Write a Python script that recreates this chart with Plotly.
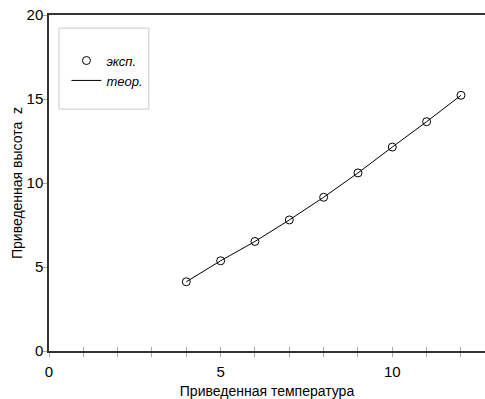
import plotly.graph_objects as go

# Data
t_exp = [4, 5, 6, 7, 8, 9, 10, 11, 12]
z_exp = [4.12, 5.37, 6.52, 7.8, 9.15, 10.6, 12.14, 13.65, 15.22]
t_theor = [4, 5, 6, 7, 8, 9, 10, 11, 12]
z_theor = [4.12, 5.37, 6.52, 7.8, 9.15, 10.6, 12.14, 13.65, 15.22]

x_ticks = [0, 1, 2, 3, 4, 5, 6, 7, 8, 9, 10, 11, 12]
x_ticktext = ["0", "", "", "", "", "5", "", "", "", "", "10", "", ""]
y_ticks = [0, 5, 10, 15, 20]

FONT = "Liberation Sans, Arial, sans-serif"

fig = go.Figure()
fig.add_trace(go.Scatter(
    x=t_exp, y=z_exp, mode="markers", name="<i>эксп.</i>",
    marker=dict(symbol="circle-open", size=8, color="black", line=dict(width=1, color="black")),
))
fig.add_trace(go.Scatter(
    x=t_theor, y=z_theor, mode="lines", name="<i>теор.</i>",
    line=dict(color="black", width=1),
))
# invisible trace for the overlay axis carrying inner tick marks
fig.add_trace(go.Scatter(x=t_exp, y=z_exp, xaxis="x2", mode="lines",
                         line=dict(width=0), showlegend=False, hoverinfo="skip", opacity=0))

fig.update_layout(
    width=485, height=399,
    margin=dict(l=49, r=0, t=15, b=48),
    paper_bgcolor="white", plot_bgcolor="white",
    font=dict(family=FONT, color="black"),
    showlegend=True,
    legend=dict(
        x=0.04, y=0.909, xanchor="left", yanchor="top",
        bgcolor="rgba(0,0,0,0)", borderwidth=0,
        font=dict(family=FONT, size=13, color="black"),
        tracegroupgap=0,
    ),
    xaxis=dict(
        range=[0, 12.7], tickvals=x_ticks, ticktext=x_ticktext,
        showgrid=False, zeroline=False,
        showline=True, linecolor="#333", linewidth=1.5, mirror=True,
        ticks="outside", ticklen=4, tickcolor="#aaa", tickwidth=1,
        tickfont=dict(size=15, family=FONT), ticklabelstandoff=2,
        title=dict(text="Приведенная температура", font=dict(size=14, family=FONT), standoff=8),
    ),
    xaxis2=dict(
        range=[0, 12.7], overlaying="x", anchor="y", side="bottom",
        tickvals=x_ticks, showticklabels=False, showgrid=False, zeroline=False,
        showline=False, ticks="inside", ticklen=4, tickcolor="#aaa", tickwidth=1,
    ),
    yaxis=dict(
        range=[0, 20], tickvals=y_ticks,
        showgrid=False, zeroline=False,
        showline=True, linecolor="#333", linewidth=1.5,
        ticks="outside", ticklen=5, tickcolor="#aaa", tickwidth=1,
        tickfont=dict(size=15, family=FONT), ticklabelstandoff=-4,
        title=dict(text="Приведенная высота\u00a0\u00a0z", font=dict(size=14, family=FONT), standoff=1),
    ),
    shapes=[dict(
        type="rect", xref="paper", yref="paper",
        x0=0.0229, x1=0.229, y0=0.720, y1=0.961,
        line=dict(color="#cccccc", width=1), fillcolor="rgba(0,0,0,0)",
    )],
)

fig.write_html("out.html")
